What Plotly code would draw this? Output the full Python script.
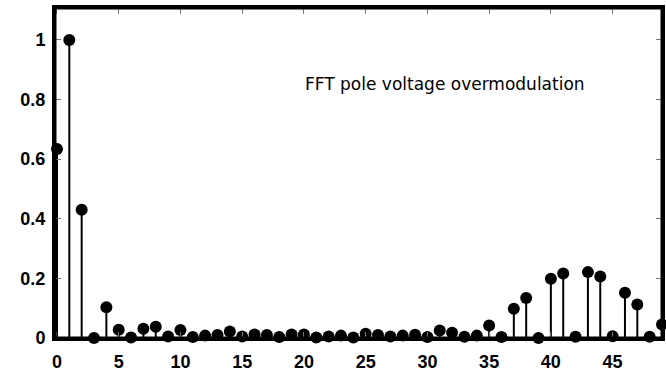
import plotly.graph_objects as go

harmonic = list(range(50))
magnitude = [0.634, 1.0, 0.43, 0.0, 0.103, 0.028, 0.002, 0.031, 0.038, 0.005,
             0.027, 0.003, 0.008, 0.01, 0.022, 0.005, 0.012, 0.01, 0.003, 0.012,
             0.012, 0.002, 0.005, 0.008, 0.002, 0.014, 0.01, 0.005, 0.008, 0.011,
             0.003, 0.025, 0.018, 0.004, 0.008, 0.042, 0.003, 0.098, 0.134, 0.0,
             0.199, 0.216, 0.004, 0.221, 0.206, 0.006, 0.152, 0.112, 0.004, 0.045]
x_ticks = [0, 5, 10, 15, 20, 25, 30, 35, 40, 45]
y_ticks = [0, 0.2, 0.4, 0.6, 0.8, 1]
title_text = "FFT pole voltage overmodulation"

stem_x, stem_y = [], []
for h, m in zip(harmonic, magnitude):
    stem_x += [h, h, None]
    stem_y += [0, m, None]

fig = go.Figure()
fig.add_trace(go.Scatter(x=stem_x, y=stem_y, mode="lines",
                         line=dict(color="black", width=2),
                         hoverinfo="skip", showlegend=False, cliponaxis=False))
fig.add_trace(go.Scatter(x=harmonic, y=magnitude, mode="markers",
                         marker=dict(color="black", size=12, symbol="circle"),
                         showlegend=False, cliponaxis=False))

fig.add_annotation(text=title_text, xref="paper", yref="paper",
                   x=0.642, y=0.806, showarrow=False,
                   font=dict(family="DejaVu Sans", size=17, color="black"))

# plot frame
fig.add_shape(type="rect", xref="paper", yref="paper", x0=0, x1=1, y0=0, y1=1,
              line=dict(color="black", width=3), layer="above")

tickfont = dict(family="Liberation Sans", size=18, color="black", weight="bold")
common = dict(showgrid=False, zeroline=False, automargin=False,
              showline=True, linewidth=3, linecolor="black", mirror="ticks",
              ticks="inside", ticklen=6, tickwidth=1, tickcolor="#777",
              tickfont=tickfont)
fig.update_xaxes(range=[-0.16, 49], tickvals=x_ticks, ticklabelstandoff=5, **common)
fig.update_yaxes(range=[0, 1.107], tickvals=y_ticks, ticklabelstandoff=3,
                 ticktext=["0", "0.2", "0.4", "0.6", "0.8", "1"], **common)
fig.update_layout(width=666, height=374, margin=dict(l=55, r=4, t=8, b=36),
                  plot_bgcolor="white", paper_bgcolor="white")
fig.write_html("out.html", config={"displayModeBar": False},
               post_script="document.body.style.margin='0px';")
